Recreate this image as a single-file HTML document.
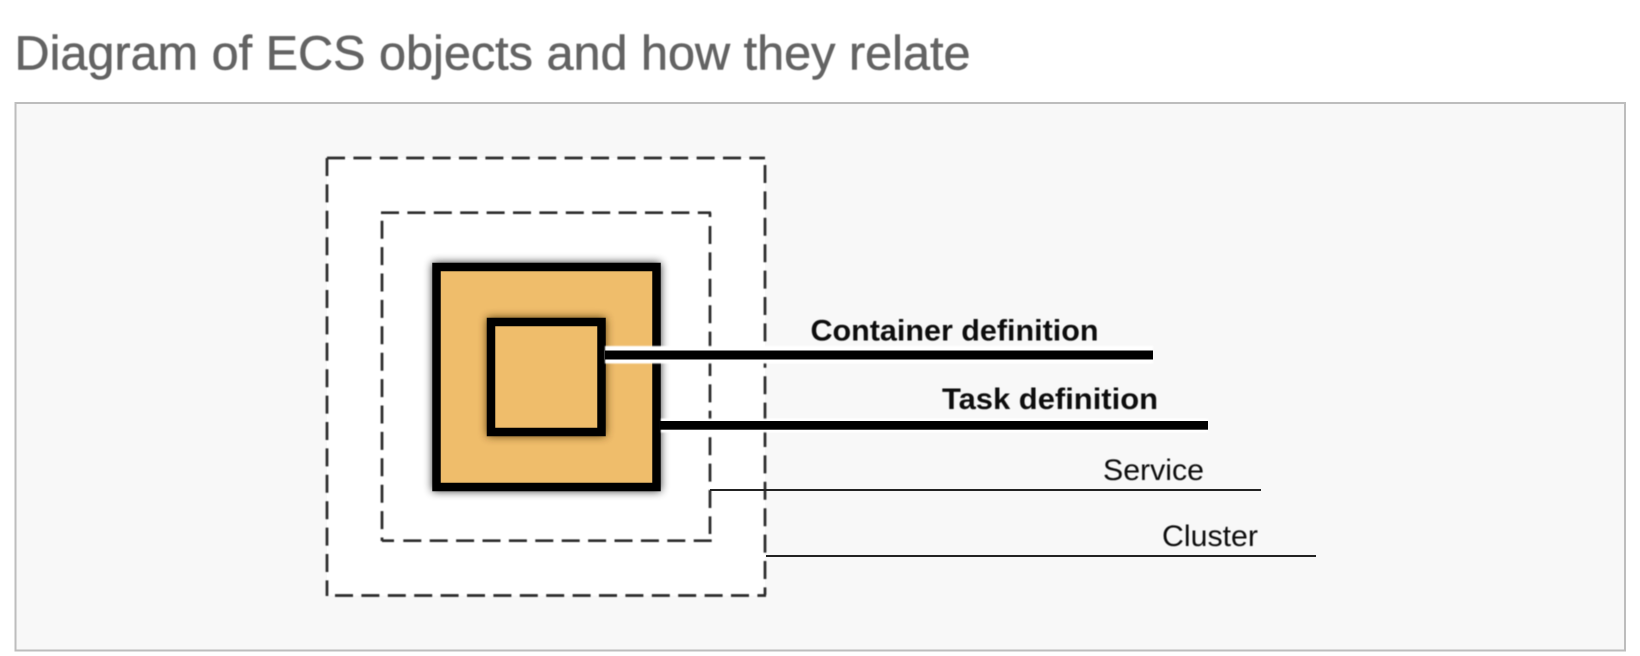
<!DOCTYPE html>
<html>
<head>
<meta charset="utf-8">
<style>
html,body{margin:0;padding:0;background:#fff;width:1640px;height:656px;overflow:hidden}
svg{display:block}
text{font-family:"Liberation Sans",Arial,sans-serif}
</style>
</head>
<body>
<svg width="1640" height="656" viewBox="0 0 1640 656" xmlns="http://www.w3.org/2000/svg">
<defs>
<filter id="s" x="-20%" y="-20%" width="140%" height="140%"><feGaussianBlur stdDeviation="4.5"/></filter>
<filter id="b" x="-5%" y="-50%" width="110%" height="200%"><feGaussianBlur stdDeviation="0.55"/></filter>
<filter id="t" x="-2%" y="-20%" width="104%" height="140%"><feGaussianBlur stdDeviation="0.45"/></filter>
<filter id="h" x="-5%" y="-200%" width="110%" height="500%"><feGaussianBlur stdDeviation="0.7"/></filter>
</defs>
<text x="14.5" y="69.5" font-size="48" fill="#636363" stroke="#636363" stroke-width="0.5" textLength="956" lengthAdjust="spacingAndGlyphs" filter="url(#t)">Diagram of ECS objects and how they relate</text>
<rect x="15.5" y="103" width="1609.5" height="547.5" fill="#f8f8f8" stroke="#bdbdbd" stroke-width="2"/>
<rect x="327" y="158" width="438" height="437.5" fill="#fff"/>

<g fill="none" stroke="#2a2a2a" stroke-width="2.7" stroke-dasharray="18 8.4" filter="url(#b)">
<path d="M327 158H765"/>
<path d="M327 158V596"/>
<path d="M335 595.5H766"/>
<path d="M765 165V595"/>
<path d="M381 212.7H711"/>
<path d="M382 220.7V541"/>
<path d="M403.3 540.7H712"/>
<path d="M382 540.7H394" stroke-dasharray="none"/>
<path d="M710 226V534"/>
<path d="M710 212.7V217" stroke-dasharray="none"/>
</g>

<rect x="432.3" y="262.7" width="228.4" height="228.4" fill="#000" filter="url(#s)" opacity=".8"/>
<rect x="436.5" y="267" width="220" height="220" fill="#efbd6b" stroke="#000" stroke-width="8.5"/>
<rect x="487" y="317.7" width="118.7" height="118.3" fill="#4a2f00" filter="url(#s)" opacity=".9"/>
<rect x="491" y="322" width="110.5" height="110" fill="#efbd6b" stroke="#000" stroke-width="8.5"/>

<rect x="605" y="346" width="548" height="17.5" fill="#fff" filter="url(#h)"/>
<rect x="605" y="350.5" width="548" height="9" fill="#000"/>
<rect x="661" y="418.5" width="547" height="14" fill="#fff" filter="url(#h)"/>
<rect x="660" y="421" width="548" height="8.7" fill="#000"/>
<rect x="710" y="489" width="551" height="2" fill="#222"/>
<rect x="766" y="555" width="550" height="2" fill="#222"/>

<g fill="#111" filter="url(#b)">
<text x="810.5" y="340.5" font-size="30" font-weight="bold" textLength="288" lengthAdjust="spacingAndGlyphs">Container definition</text>
<text x="942" y="409" font-size="30" font-weight="bold" textLength="216" lengthAdjust="spacingAndGlyphs">Task definition</text>
<text x="1103" y="480" font-size="30" textLength="101" lengthAdjust="spacingAndGlyphs">Service</text>
<text x="1162" y="546" font-size="30" textLength="96" lengthAdjust="spacingAndGlyphs">Cluster</text>
</g>
</svg>
</body>
</html>
